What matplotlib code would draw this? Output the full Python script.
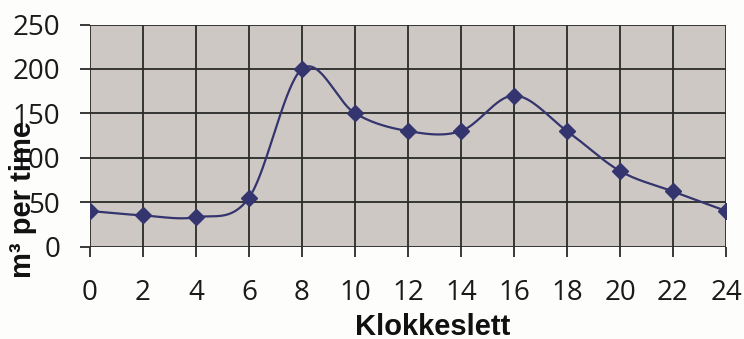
import numpy as np
import matplotlib
matplotlib.use("Agg")
import matplotlib.pyplot as plt

# Hourly flow readings
hours = [0, 2, 4, 6, 8, 10, 12, 14, 16, 18, 20, 22, 24]
flow = [40, 35, 33, 55, 200, 150, 130, 130, 170, 130, 85, 62, 40]
x_ticks = list(range(0, 25, 2))
y_ticks = [0, 50, 100, 150, 200, 250]


def catmull_rom(xs, ys, n=40):
    """Smooth curve through the points (Catmull-Rom spline)."""
    xs = np.asarray(xs, float)
    ys = np.asarray(ys, float)
    px = np.concatenate([[2 * xs[0] - xs[1]], xs, [2 * xs[-1] - xs[-2]]])
    py = np.concatenate([[2 * ys[0] - ys[1]], ys, [2 * ys[-1] - ys[-2]]])
    out_x, out_y = [], []
    t = np.linspace(0, 1, n)
    for i in range(1, len(px) - 2):
        for arr, out in ((px, out_x), (py, out_y)):
            p0, p1, p2, p3 = arr[i - 1], arr[i], arr[i + 1], arr[i + 2]
            seg = 0.5 * ((2 * p1) + (-p0 + p2) * t
                         + (2 * p0 - 5 * p1 + 4 * p2 - p3) * t ** 2
                         + (-p0 + 3 * p1 - 3 * p2 + p3) * t ** 3)
            out.extend(seg if not out else seg[1:])
    return np.array(out_x), np.array(out_y)


W, H = 744, 339
fig = plt.figure(figsize=(W / 100, H / 100), dpi=100, facecolor="#fdfdfc")
ax = fig.add_axes([90 / W, 1 - 246.5 / H, (726 - 90) / W, (246.5 - 24.5) / H])
ax.set_facecolor("#cdc8c3")

line_color = "#34346e"
sx, sy = catmull_rom(hours, flow)
ax.plot(sx, sy, color=line_color, lw=1.6, zorder=3)
ax.plot(hours, flow, ls="none", marker="D", ms=8, color=line_color, zorder=4)

ax.set_xlim(0, 24)
ax.set_ylim(0, 250)
ax.set_xticks(x_ticks)
ax.set_yticks(y_ticks)
grid_color = "#2a2a2a"
ax.grid(True, color=grid_color, lw=1.3, zorder=1)
ax.set_axisbelow(True)
for s in ax.spines.values():
    s.set_visible(False)

ax.tick_params(axis="both", direction="out", length=7.5, width=1.3,
               color=grid_color, labelsize=20, labelcolor="#1a1a1a")
ax.tick_params(axis="x", pad=16)
ax.tick_params(axis="y", pad=14)
for lab in ax.get_xticklabels() + ax.get_yticklabels():
    lab.set_fontfamily(["Open Sans", "DejaVu Sans"])

fig.text(433 / W, 1 - 327 / H, "Klokkeslett", ha="center", va="center",
         fontsize=21, fontweight="bold", family=["Liberation Sans", "DejaVu Sans"],
         color="#111111")
fig.text(23 / W, 1 - 200 / H, "m³ per time", ha="center", va="center",
         rotation=90, fontsize=21, fontweight="bold",
         family=["Liberation Sans", "DejaVu Sans"], color="#111111")

fig.savefig("out.png", dpi=100, facecolor=fig.get_facecolor())
